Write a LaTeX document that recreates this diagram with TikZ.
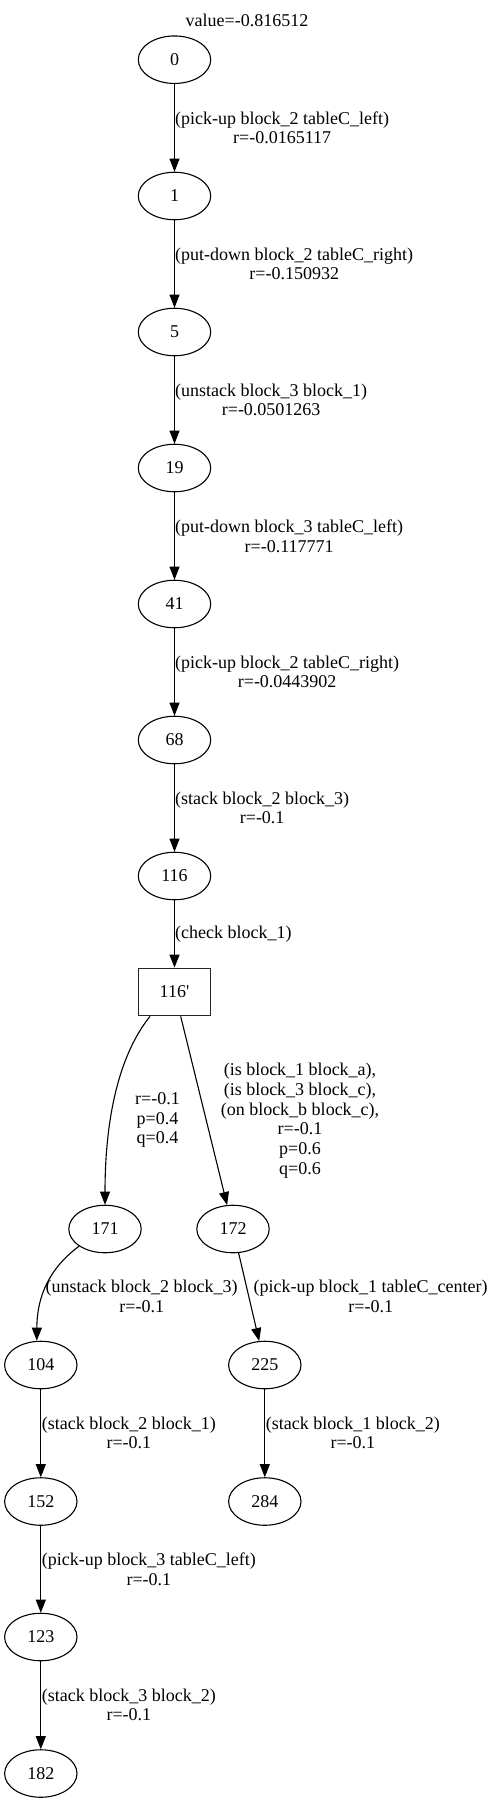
\documentclass[tikz,border=0pt]{standalone}
\usepackage{fontspec}
\setmainfont{Liberation Serif}
\usetikzlibrary{arrows.meta,shapes.geometric}
\begin{document}
\begin{tikzpicture}[x=1pt,y=-1pt,
  every node/.style={font=\fontsize{18}{19.7}\selectfont},
  st/.style={draw,ellipse,line width=1.1pt,minimum width=72.4pt,minimum height=47.5pt,inner sep=0pt},
  bx/.style={draw=black!85,rectangle,line width=1.3pt,minimum width=72.4pt,minimum height=47.4pt,inner sep=0pt},
  ed/.style={line width=1.1pt,-{Triangle[length=13pt,width=10pt]}},
  lb/.style={align=center,inner sep=0pt,anchor=west},
  lc/.style={align=center,inner sep=0pt}]
\useasboundingbox (0,0) rectangle (495,1803);
\node[lc] (title) at (247,20.7) {value=-0.816512};
\node[st] (n0) at (174.5,59.7) {0};
\node[st] (n1) at (174.5,196) {1};
\node[st] (n5) at (174.5,332) {5};
\node[st] (n19) at (174.5,468) {19};
\node[st] (n41) at (174.5,604) {41};
\node[st] (n68) at (174.5,740) {68};
\node[st] (n116) at (174.5,876) {116};
\node[bx] (n116p) at (174.5,992) {116\textquotesingle};
\node[st] (n171) at (105,1229) {171};
\node[st] (n172) at (233,1229) {172};
\node[st] (n104) at (40.8,1365) {104};
\node[st] (n225) at (264.8,1365) {225};
\node[st] (n152) at (40.8,1501.5) {152};
\node[st] (n284) at (264.8,1501.5) {284};
\node[st] (n123) at (40.8,1637) {123};
\node[st] (n182) at (40.8,1773.5) {182};

\draw[ed] (n0) -- (n1);
\node[lb] (l1) at (175,127.9) {(pick-up block\_2 tableC\_left)\\r=-0.0165117};
\draw[ed] (n1) -- (n5);
\node[lb] (l2) at (175,264) {(put-down block\_2 tableC\_right)\\r=-0.150932};
\draw[ed] (n5) -- (n19);
\node[lb] (l3) at (175,400) {(unstack block\_3 block\_1)\\r=-0.0501263};
\draw[ed] (n19) -- (n41);
\node[lb] (l4) at (175,536) {(put-down block\_3 tableC\_left)\\r=-0.117771};
\draw[ed] (n41) -- (n68);
\node[lb] (l5) at (175,672) {(pick-up block\_2 tableC\_right)\\r=-0.0443902};
\draw[ed] (n68) -- (n116);
\node[lb] (l6) at (175,808) {(stack block\_2 block\_3)\\r=-0.1};
\draw[ed] (n116) -- (n116p);
\node[lb] (l7) at (175,934) {(check block\_1)};

\draw[ed] ([xshift=-24.5pt]n116p.south) .. controls (115,1060) and (105,1130) .. (n171);
\node[lc] (l8) at (157.5,1120) {r=-0.1\\p=0.4\\q=0.4};
\draw[ed] ([xshift=6.2pt]n116p.south) -- (n172);
\node[lc] (l9) at (300,1120.7) {(is block\_1 block\_a),\\(is block\_3 block\_c),\\(on block\_b block\_c),\\r=-0.1\\p=0.6\\q=0.6};

\draw[ed] (n171.south west) .. controls (50,1268) and (37,1295) .. ([xshift=-4pt]n104.north);
\node[lc] (l10) at (141.7,1296.5) {(unstack block\_2 block\_3)\\r=-0.1};
\draw[ed] (n172) -- (n225);
\node[lc] (l11) at (370.7,1296.5) {(pick-up block\_1 tableC\_center)\\r=-0.1};

\draw[ed] (n104) -- (n152);
\node[lb] (l12) at (41.7,1433) {(stack block\_2 block\_1)\\r=-0.1};
\draw[ed] (n225) -- (n284);
\node[lb] (l13) at (265.7,1433) {(stack block\_1 block\_2)\\r=-0.1};
\draw[ed] (n152) -- (n123);
\node[lb] (l14) at (41.7,1569) {(pick-up block\_3 tableC\_left)\\r=-0.1};
\draw[ed] (n123) -- (n182);
\node[lb] (l15) at (41.7,1705) {(stack block\_3 block\_2)\\r=-0.1};
\end{tikzpicture}
\end{document}
